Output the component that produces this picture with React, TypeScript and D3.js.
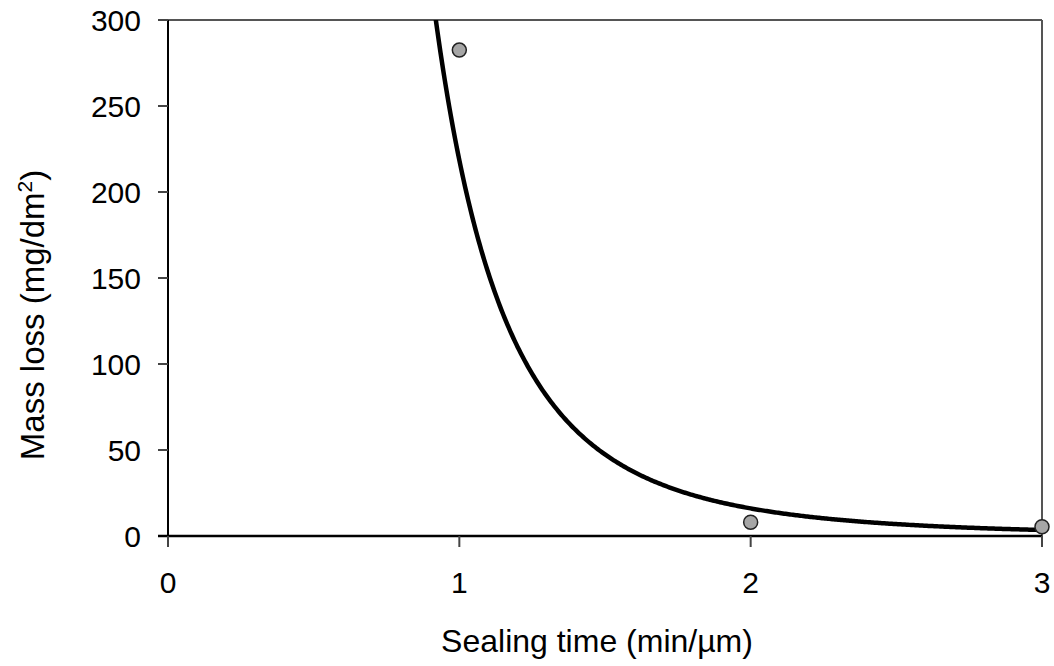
import React from "react";
import * as d3 from "d3";

// Measured mass loss against sealing time
const sealingTime = [1, 2, 3];
const massLoss = [282.5, 8, 5.4];
const xTicks = [0, 1, 2, 3];
const yTicks = [0, 50, 100, 150, 200, 250, 300];

const W = 1054;
const H = 666;
const margin = { left: 168, right: 12, top: 20, bottom: 130 };

// Least-squares power trendline y = a * x^b, fitted in log-log space
function powerFit(xs: number[], ys: number[]) {
  const lx = xs.map(Math.log);
  const ly = ys.map(Math.log);
  const mx = d3.mean(lx)!;
  const my = d3.mean(ly)!;
  const sxy = d3.sum(lx, (v, i) => (v - mx) * (ly[i] - my));
  const sxx = d3.sum(lx, (v) => (v - mx) ** 2);
  const b = sxy / sxx;
  const a = Math.exp(my - b * mx);
  return { a, b };
}

export default function App() {
  const x = d3.scaleLinear().domain([0, 3]).range([margin.left, W - margin.right]);
  const y = d3.scaleLinear().domain([0, 300]).range([H - margin.bottom, margin.top]);
  const x0 = x(0), x1 = x(3), y0 = y(0), y1 = y(300);

  const { a, b } = powerFit(sealingTime, massLoss);
  const curveXs = d3.range(0.8, 3.0001, 0.005);
  const line = d3
    .line<number>()
    .x((d) => x(d))
    .y((d) => y(a * Math.pow(d, b)))
    .curve(d3.curveLinear);

  const font = "'Liberation Sans', Arial, sans-serif";

  return (
    <svg
      width={W}
      height={H}
      style={{ position: "absolute", left: 0, top: 0, background: "#fff" }}
      fontFamily={font}
    >
      <defs>
        <clipPath id="plot">
          <rect x={x0} y={y1} width={x1 - x0} height={y0 - y1} />
        </clipPath>
      </defs>

      {/* frame: top and right */}
      <line x1={x0 - 10} x2={x1} y1={y1} y2={y1} stroke="#555" strokeWidth={2} />
      <line x1={x1} x2={x1} y1={y1} y2={y0} stroke="#555" strokeWidth={2} />

      {/* y axis */}
      <line x1={x0} x2={x0} y1={y1} y2={y0 + 10} stroke="#000" strokeWidth={2} />
      {yTicks.map((t) => (
        <g key={"y" + t}>
          <line x1={x0 - 10} x2={x0} y1={y(t)} y2={y(t)} stroke="#444" strokeWidth={2} />
          <text x={x0 - 27} y={y(t)} dy="0.36em" textAnchor="end" fontSize={30} fill="#000">
            {t}
          </text>
        </g>
      ))}

      {/* x axis */}
      <line x1={x0 - 10} x2={x1} y1={y0} y2={y0} stroke="#000" strokeWidth={2.5} />
      {xTicks.map((t) => (
        <g key={"x" + t}>
          <line x1={x(t)} x2={x(t)} y1={y0} y2={y0 + 11} stroke="#444" strokeWidth={2} />
          <text x={x(t)} y={593} textAnchor="middle" fontSize={30} fill="#000">
            {t}
          </text>
        </g>
      ))}

      {/* power trendline */}
      <path
        d={line(curveXs) || ""}
        fill="none"
        stroke="#000"
        strokeWidth={4.5}
        clipPath="url(#plot)"
      />

      {/* measured points */}
      {sealingTime.map((t, i) => (
        <circle
          key={"p" + i}
          cx={x(t)}
          cy={y(massLoss[i])}
          r={7}
          fill="#a6a6a6"
          stroke="#222"
          strokeWidth={1.5}
        />
      ))}

      {/* axis titles */}
      <text x={597} y={652} textAnchor="middle" fontSize={32} fill="#000">
        Sealing time (min/µm)
      </text>
      <text
        transform={`translate(44, 315) rotate(-90)`}
        textAnchor="middle"
        fontSize={33}
        fill="#000"
      >
        Mass loss (mg/dm
        <tspan fontSize={21} dy={-12}>2</tspan>
        <tspan dy={12}>)</tspan>
      </text>
    </svg>
  );
}
